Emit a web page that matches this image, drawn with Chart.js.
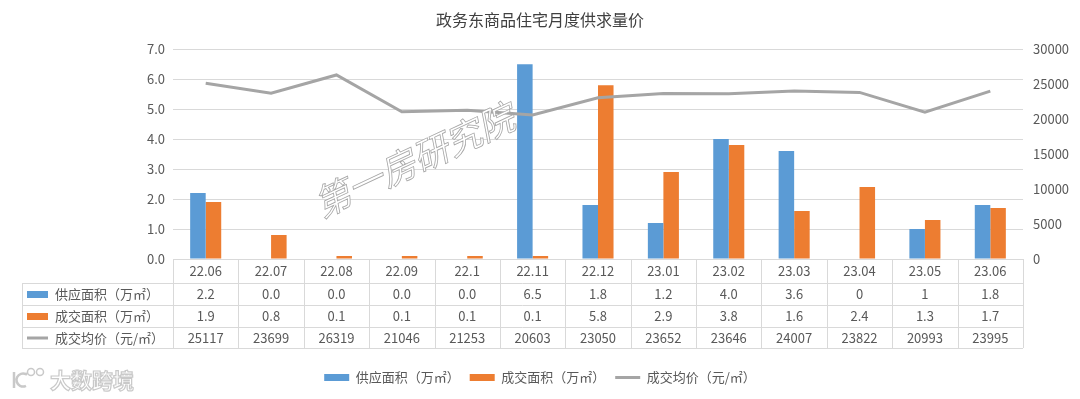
<!DOCTYPE html>
<html>
<head>
<meta charset="utf-8">
<script src="https://cdn.jsdelivr.net/npm/chart.js@4"></script>
<style>
  html, body { margin: 0; padding: 0; background: #fff; }
  #wrap { width: 1080px; height: 399px; }
</style>
</head>
<body>
<div id="wrap"><canvas id="chartGongqiu"></canvas></div>
<script>
// 数据
const months = ['22.06', '22.07', '22.08', '22.09', '22.1', '22.11', '22.12', '23.01', '23.02', '23.03', '23.04', '23.05', '23.06'];
const supplyArea = [2.2, 0.0, 0.0, 0.0, 0.0, 6.5, 1.8, 1.2, 4.0, 3.6, 0, 1, 1.8];
const dealArea = [1.9, 0.8, 0.1, 0.1, 0.1, 0.1, 5.8, 2.9, 3.8, 1.6, 2.4, 1.3, 1.7];
const avgPrice = [25117, 23699, 26319, 21046, 21253, 20603, 23050, 23652, 23646, 24007, 23822, 20993, 23995];
// 表格里显示的文字
const supplyText = ['2.2', '0.0', '0.0', '0.0', '0.0', '6.5', '1.8', '1.2', '4.0', '3.6', '0', '1', '1.8'];
const dealText = ['1.9', '0.8', '0.1', '0.1', '0.1', '0.1', '5.8', '2.9', '3.8', '1.6', '2.4', '1.3', '1.7'];
const leftTicks = [0, 1, 2, 3, 4, 5, 6, 7];
const rightTicks = [0, 5000, 10000, 15000, 20000, 25000, 30000];

const FONT = "'Noto Sans CJK SC', 'Noto Sans', sans-serif";
const BLUE = '#5b9bd5';
const ORANGE = '#ed7d31';
const GRAY = '#a5a5a5';
const LINE_C = '#d9d9d9';
const TXT = '#595959';

// 数据表 + 水印
const tablePlugin = {
    id: 'dataTable',
    afterDatasetsDraw(chart) {
        const ctx = chart.ctx;
        // 水印
        ctx.save();
        ctx.translate(414, 160);
        ctx.rotate(-25 * Math.PI / 180);
        ctx.font = 'italic 36px ' + FONT;
        ctx.textAlign = 'center';
        ctx.textBaseline = 'middle';
        ctx.fillStyle = '#ffffff';
        ctx.fillText('第一房研究院', 0, 0);
        ctx.lineWidth = 0.8;
        ctx.strokeStyle = '#a6a6a6';
        ctx.strokeText('第一房研究院', 0, 0);
        ctx.restore();
    },
    afterDraw(chart) {
        const ctx = chart.ctx;
        const area = chart.chartArea;
        const xs = chart.scales.x;
        const n = months.length;
        const cw = (area.right - area.left) / n;
        const top = area.bottom;
        const rows = [top, top + 24, top + 46, top + 68, top + 89];
        const labelLeft = 22;

        ctx.save();
        ctx.strokeStyle = LINE_C;
        ctx.lineWidth = 1;
        ctx.beginPath();
        // 横线
        ctx.moveTo(area.left, rows[0] + 0.5);
        ctx.lineTo(area.right, rows[0] + 0.5);
        for (let r = 1; r < rows.length; r++) {
            ctx.moveTo(labelLeft, Math.round(rows[r]) + 0.5);
            ctx.lineTo(area.right, Math.round(rows[r]) + 0.5);
        }
        // 竖线
        for (let i = 0; i <= n; i++) {
            const x = Math.round(area.left + i * cw) + 0.5;
            ctx.moveTo(x, rows[0]);
            ctx.lineTo(x, rows[4]);
        }
        ctx.moveTo(labelLeft + 0.5, rows[1]);
        ctx.lineTo(labelLeft + 0.5, rows[4]);
        ctx.stroke();

        ctx.font = '13px ' + FONT;
        ctx.fillStyle = TXT;
        ctx.textAlign = 'center';
        ctx.textBaseline = 'middle';
        const mids = [];
        for (let r = 0; r < 4; r++) mids.push((rows[r] + rows[r + 1]) / 2 + 0.5);
        const tableRows = [months, supplyText, dealText, avgPrice.map(String)];
        tableRows.forEach((row, r) => {
            row.forEach((t, i) => {
                ctx.fillText(t, xs.getPixelForValue(i), mids[r]);
            });
        });

        // 行标题
        const ds = chart.data.datasets;
        ctx.textAlign = 'left';
        for (let r = 1; r < 4; r++) {
            const d = ds[r - 1];
            if (d.type === 'line') {
                ctx.strokeStyle = d.borderColor;
                ctx.lineWidth = 3;
                ctx.beginPath();
                ctx.moveTo(27, mids[r]);
                ctx.lineTo(48, mids[r]);
                ctx.stroke();
            } else {
                ctx.fillStyle = d.backgroundColor;
                ctx.fillRect(27, mids[r] - 3.5, 21, 7);
            }
            ctx.fillStyle = TXT;
            ctx.fillText(d.label, 55, mids[r]);
        }

        // 左下角标识
        ctx.font = 'bold 21px ' + FONT;
        ctx.lineWidth = 1.2;
        ctx.strokeStyle = '#c9c9c9';
        ctx.fillStyle = '#ffffff';
        ctx.fillText('大数跨境', 50, 380);
        ctx.strokeText('大数跨境', 50, 380);
        ctx.lineWidth = 2.5;
        ctx.beginPath();
        ctx.moveTo(14, 372);
        ctx.lineTo(14, 388);
        ctx.moveTo(27, 373);
        ctx.arc(23, 380, 6.5, -Math.PI * 0.35, Math.PI * 0.35, true);
        ctx.stroke();
        ctx.lineWidth = 1.5;
        ctx.beginPath();
        ctx.arc(31, 372, 3.5, 0, Math.PI * 2);
        ctx.moveTo(43.5, 372);
        ctx.arc(40, 372, 3.5, 0, Math.PI * 2);
        ctx.stroke();
        ctx.restore();
    }
};

document.addEventListener('DOMContentLoaded', function () {
    const ctx = document.getElementById('chartGongqiu').getContext('2d');
    Chart.defaults.font.family = FONT;
    Chart.defaults.color = TXT;

    new Chart(ctx, {
        type: 'bar',
        data: {
            labels: months,
            datasets: [{
                label: '供应面积（万㎡）',
                data: supplyArea,
                backgroundColor: BLUE,
                yAxisID: 'y',
                pointStyle: 'rect',
                order: 2,
            }, {
                label: '成交面积（万㎡）',
                data: dealArea,
                backgroundColor: ORANGE,
                yAxisID: 'y',
                pointStyle: 'rect',
                order: 2,
            }, {
                type: 'line',
                label: '成交均价（元/㎡）',
                data: avgPrice,
                borderColor: GRAY,
                backgroundColor: GRAY,
                borderWidth: 3,
                pointRadius: 0,
                pointStyle: 'line',
                tension: 0,
                yAxisID: 'y2',
                order: 1,
            }],
        },
        options: {
            responsive: true,
            maintainAspectRatio: false,
            animation: false,
            categoryPercentage: 0.475,
            barPercentage: 1,
            layout: { padding: { left: 0, right: 0, top: 0, bottom: 5 } },
            plugins: {
                title: {
                    display: true,
                    text: '政务东商品住宅月度供求量价',
                    color: '#404040',
                    font: { size: 16, weight: 'normal' },
                    padding: { top: 10, bottom: 20 },
                },
                legend: {
                    position: 'bottom',
                    labels: {
                        usePointStyle: true,
                        pointStyleWidth: 25,
                        boxHeight: 7,
                        padding: 10,
                        font: { size: 13 },
                        color: TXT,
                        sort: (a, b) => a.datasetIndex - b.datasetIndex,
                    },
                },
                tooltip: { enabled: false },
            },
            scales: {
                x: {
                    grid: { display: false },
                    border: { display: false },
                    ticks: { display: false },
                    afterFit: function (scale) { scale.height = 102; },
                },
                y: {
                    position: 'left',
                    min: 0,
                    max: 7,
                    afterBuildTicks: function (scale) { scale.ticks = leftTicks.map(v => ({ value: v })); },
                    ticks: {
                        padding: 8,
                        font: { size: 13 },
                        color: TXT,
                        callback: v => v.toFixed(1),
                    },
                    grid: { color: LINE_C, drawTicks: false },
                    border: { display: false },
                    afterFit: function (scale) { scale.width = 173; },
                },
                y2: {
                    position: 'right',
                    min: 0,
                    max: 30000,
                    afterBuildTicks: function (scale) { scale.ticks = rightTicks.map(v => ({ value: v })); },
                    ticks: {
                        padding: 10,
                        font: { size: 13 },
                        color: TXT,
                        callback: v => String(v),
                    },
                    grid: { display: false, drawTicks: false },
                    border: { display: false },
                    afterFit: function (scale) { scale.width = 57; },
                },
            },
        },
        plugins: [tablePlugin],
    });
});
</script>
</body>
</html>
